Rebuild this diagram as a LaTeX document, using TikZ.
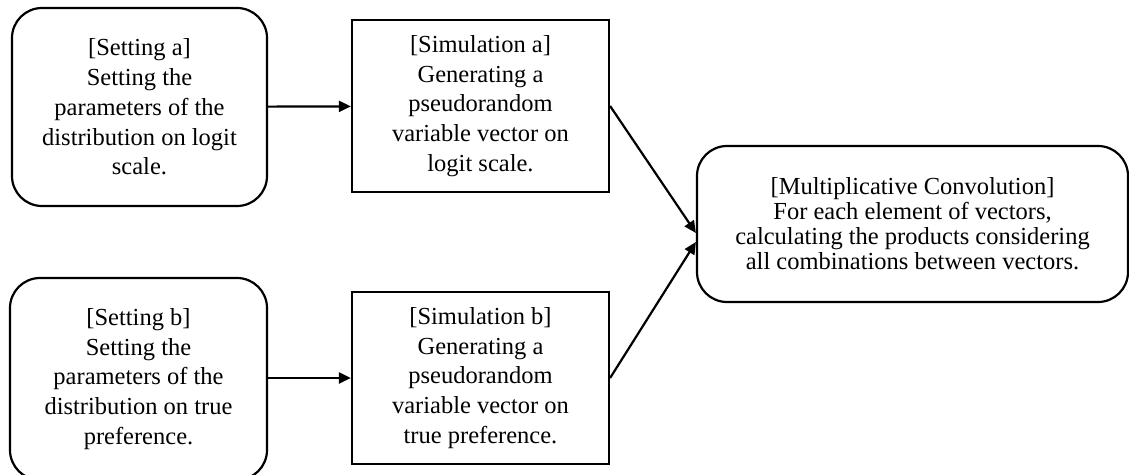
\documentclass[tikz,border=0pt]{standalone}
\usepackage{fontspec}
\setmainfont{Liberation Serif}
\usetikzlibrary{arrows.meta}

\tikzset{
	setbox/.style={draw, line width=2.2pt, rounded corners=30pt, align=center, inner sep=0pt},
	simbox/.style={draw, line width=2.2pt, align=center, inner sep=0pt},
	flowarrow/.style={line width=2.2pt, -{Triangle[length=12pt, width=11pt]}}
}

\begin{document}
\begin{tikzpicture}[x=1pt, y=-1pt, font=\fontsize{24.5}{29.7}\selectfont]
			%%%%% START %%%%%
			\useasboundingbox (0, 0) rectangle (1129, 474);
			
			\node[setbox, minimum width=255pt, minimum height=198pt] (seta) at (139.5, 107) {[Setting a]\\Setting the\\parameters of the\\distribution on logit\\scale.};
			\node[simbox, minimum width=257pt, minimum height=172pt] (sima) at (480.5, 106) {[Simulation a]\\Generating a\\pseudorandom\\variable vector on\\logit scale.};
			
			\node[setbox, minimum width=257pt, minimum height=202pt] (setb) at (138.5, 379) {[Setting b]\\Setting the\\parameters of the\\distribution on true\\preference.};
			\node[simbox, minimum width=257pt, minimum height=172pt] (simb) at (480.5, 378) {[Simulation b]\\Generating a\\pseudorandom\\variable vector on\\true preference.};
			
			\node[setbox, minimum width=431pt, minimum height=156pt, font=\fontsize{24.5}{25}\selectfont] (conv) at (912.5, 224) {[Multiplicative Convolution]\\For each element of vectors,\\calculating the products considering\\all combinations between vectors.};
			
			\draw[flowarrow] (seta) -- (sima);
			\draw[flowarrow] (setb.east |- simb) -- (simb);
			\draw[flowarrow] (sima.east) -- ([yshift=-9pt]conv.west);
			\draw[flowarrow] (simb.east) -- ([yshift=-18pt]conv.west);
			
			%%%%% END %%%%%
		\end{tikzpicture}
\end{document}
